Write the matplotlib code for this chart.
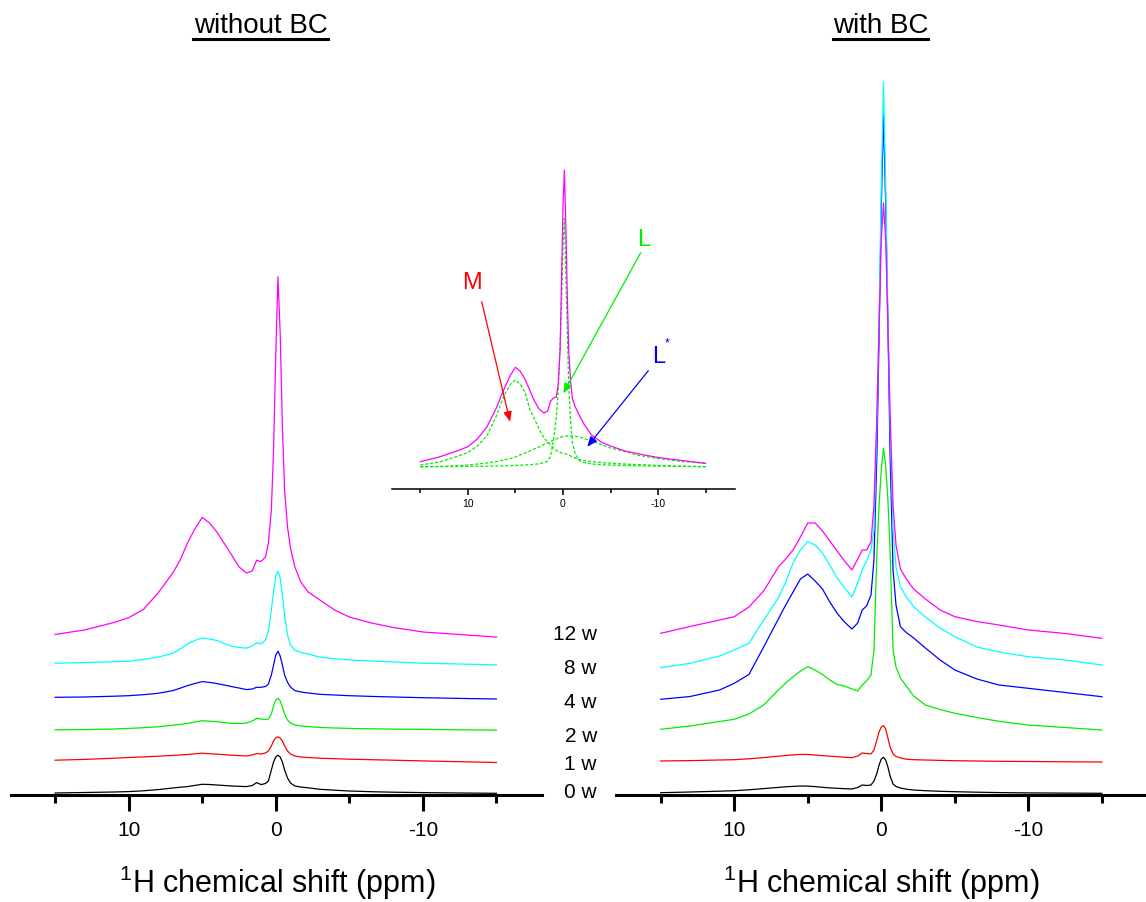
import matplotlib
matplotlib.use('Agg')
import matplotlib.pyplot as plt
from matplotlib.lines import Line2D

plt.rcParams['font.family'] = ['Liberation Sans', 'DejaVu Sans']
plt.rcParams['mathtext.fontset'] = 'custom'
plt.rcParams['mathtext.rm'] = 'Liberation Sans'
plt.rcParams['axes.unicode_minus'] = False

# --- data: 1H spectra (ppm grid, intensity in arbitrary units) ---
ppm = [15, 13, 11, 10, 9, 8, 7, 6.5, 6, 5.5, 5, 4.5, 4, 3.5, 3, 2.5, 2, 1.6, 1.3, 1.0,
       0.7, 0.5, 0.3, 0.15, 0.0, -0.15, -0.3, -0.45, -0.6, -0.8, -1.0, -1.3, -1.7, -2.2,
       -3, -4, -5, -6.5, -8, -10, -12.5, -15]

weeks = ['0 w', '1 w', '2 w', '4 w', '8 w', '12 w']
colors = ['#000000', '#ff0000', '#00ee00', '#0000ff', '#00ffff', '#ff00ff']

# without BC
noBC_0w = [2, 2.5, 3, 3.4, 4.2, 5.4, 7, 7.8, 8.4, 9.6, 10.7, 10.5, 10, 9.5, 9, 8.7, 8.4, 9.5, 12.4, 10.4,
           11.5, 14, 25, 33, 38, 39.8, 38, 33, 25, 17, 12, 9, 8, 7.2, 5.7, 4.8, 4, 3.3, 2.8, 2.4, 2, 1.7]
noBC_1w = [34.8, 35.6, 36.8, 37.5, 38.1, 38.8, 39.6, 40, 40.5, 41.2, 41.8, 41.3, 40.8, 40.3, 39.8, 39.4, 39, 40, 41.5, 41,
           42, 44, 49, 54, 57, 58.2, 57, 54, 49, 44, 41, 39, 38, 37.5, 36.8, 36.3, 35.8, 35.3, 34.8, 34.1, 33.3, 32.5]
noBC_2w = [65.2, 65.4, 66, 66.6, 67.3, 68.2, 69.8, 70.6, 71.6, 73, 74.3, 73.8, 73.3, 72.4, 71.6, 71.5, 71.9, 74, 76.6, 76,
           75.5, 76, 81, 89, 95, 96.7, 94, 88, 81, 75, 72, 70, 69, 68.4, 67.6, 67, 66.6, 66.2, 65.9, 65.6, 65.2, 64.9]
noBC_4w = [97.7, 98, 98.8, 99.3, 100.3, 101.7, 104.4, 106.8, 109.4, 111.5, 113.4, 112.6, 111.4, 110, 108.4, 107, 105.4, 106, 107.7, 107.7,
           108.5, 111, 120, 130, 140, 143.8, 139, 130, 120, 112.7, 108, 104.4, 103, 102, 100.7, 100, 99.3, 98.6, 98, 97.3, 96.6, 96]
noBC_8w = [131.8, 132.4, 133.3, 133.8, 135.5, 137.8, 141.8, 146, 151.2, 154.5, 157.2, 156, 154.5, 151.5, 148.8, 147.5, 146.8, 149, 152.2, 151.2,
           155, 164, 185, 203, 219, 224, 217, 200, 180, 160, 150, 145, 142.5, 141, 137.8, 136.3, 135.1, 134, 133, 131.8, 131, 130.1]
noBC_12w = [160.6, 165, 172.5, 177.3, 185.5, 202, 222, 235, 252, 266, 277.6, 272, 263, 251.5, 240, 228.1, 222, 224, 234.8, 233.5,
            238, 252, 285, 345, 440, 518.3, 462, 368, 305, 268, 247, 228, 213, 203, 195, 185, 178, 172, 167.5, 163, 160.5, 157.9]

# with BC
BC_0w = [2.3, 3, 3.8, 4.3, 5.2, 6.4, 7.6, 8.2, 8.6, 9, 8.9, 8.4, 7.7, 7.1, 6.7, 6.3, 6, 7.5, 10, 9.5,
         10, 14, 21.7, 30, 36, 37.7, 35, 28, 19, 11, 8.5, 7, 5.8, 5, 4.3, 3.7, 3.3, 2.8, 2.4, 2.1, 1.9, 1.7]
BC_1w = [34, 34.4, 35, 35.3, 36.2, 37.4, 38.8, 39.5, 40.1, 40.6, 40.5, 40, 39.4, 38.8, 38.3, 37.8, 37.4, 39, 42, 41.5,
         41, 45, 55, 63, 68, 69.3, 66, 57, 48, 41, 38.5, 37, 35.8, 35.3, 35, 34.6, 34.3, 34, 33.7, 33.5, 33.2, 33]
BC_2w = [65.7, 69, 73.5, 75.7, 81, 90, 105, 112, 118, 124, 128.3, 125, 120.5, 115, 110.5, 109, 106, 104, 110, 114,
         120, 145, 241.7, 290, 325, 347, 330, 295, 243, 145, 128, 117, 109, 99, 90, 85.5, 81.7, 77.5, 73.7, 70, 67.5, 65]
BC_4w = [95.7, 98.5, 105, 111.7, 120.5, 148, 176, 190, 203, 216, 221, 214, 206, 193, 181.7, 173, 166, 172, 185, 189,
         200, 235, 340, 460, 590, 681.7, 590, 470, 340, 225, 190, 168.3, 162.5, 157, 147, 135, 125, 116, 110, 106.7, 102.5, 98.3]
BC_8w = [127.3, 131.7, 139, 145, 151.7, 175, 197, 213, 232, 245, 253.3, 250, 242, 230, 217, 207, 198, 212, 225, 234,
         245, 265, 370, 480, 610, 713, 610, 480, 370, 265, 228, 208.3, 198, 188.3, 178, 167, 158.3, 148, 143, 138.3, 135, 130]
BC_12w = [161.7, 168.5, 175, 178.3, 188, 204, 228, 236, 245, 258, 272, 272, 264, 254, 244, 234, 225, 236, 245, 245,
          253, 290, 380, 470, 555, 592, 555, 470, 380, 290, 250, 226, 216, 206, 196, 185, 178.3, 173.5, 170, 165, 161.5, 156.7]

# inset: 12 w spectrum and its deconvolution (M, L, L*)
inset_12w = [27.3, 32, 38.5, 42.3, 50, 62, 81, 93, 104, 114, 121.7, 118, 110, 99, 88, 80, 76, 78, 88, 91,
             92, 105, 139, 210, 280, 319, 265, 195, 139, 108, 90, 82, 74, 65, 54, 47, 43, 38, 35, 31.5, 28.5, 25.7]
fit_M = [24, 27, 33, 36.5, 43, 53, 73, 86, 97, 105, 109, 105, 97, 80, 70, 60, 51, 47, 44, 41,
         38.5, 37.5, 36.5, 36, 35.7, 35.3, 35, 34.5, 34, 33, 32, 31, 29.5, 28.5, 27.5, 26.5, 25.8, 25, 24.3, 23.5, 22.8, 22.3]
fit_L = [22.3, 22.4, 22.5, 22.6, 22.7, 22.8, 23, 23.1, 23.2, 23.4, 23.6, 23.8, 24, 24.3, 24.7, 25.3, 26.3, 28, 33, 48,
         72, 98, 145, 185, 240, 270.7, 215, 160, 105, 68, 46, 35, 28.5, 26.5, 25, 24.3, 23.9, 23.5, 23.2, 22.9, 22.6, 22.3]
fit_Lstar = [22.3, 22.5, 23.3, 24, 25, 26, 27.5, 28.5, 29.5, 30.5, 32, 34, 36, 38, 40, 42, 44.5, 46, 47.5, 49,
             50, 51, 51.8, 52.2, 52.5, 52.7, 52.9, 53, 53, 53, 53, 52.7, 52, 50.5, 48, 44.5, 41, 37.5, 33.5, 30.5, 27.5, 25.7]

W, H = 1146, 902
fig = plt.figure(figsize=(W / 100, H / 100), dpi=100)


def px_axes(x0, y_top, x1, y_bot):
    ax = fig.add_axes([x0 / W, 1 - y_bot / H, (x1 - x0) / W, (y_bot - y_top) / H])
    ax.patch.set_visible(False)
    for s in ['top', 'left', 'right']:
        ax.spines[s].set_visible(False)
    ax.set_yticks([])
    return ax


def fx(x):
    return x / W


def fy(y):
    return 1 - y / H


def style_axis(ax, lw, major, minor, size, pad):
    ax.spines['bottom'].set_linewidth(lw)
    ax.set_xticks([10, 0, -10])
    ax.set_xticklabels(['10', '0', '-10'])
    ax.set_xticks([15, 5, -5, -15], minor=True)
    ax.tick_params(axis='x', which='major', direction='out', length=major, width=lw,
                   labelsize=size, pad=pad, colors='black')
    ax.tick_params(axis='x', which='minor', direction='out', length=minor, width=lw)


# --- main panels ---
ax_l = px_axes(11, 60, 542, 795)
ax_l.set_xlim(18.0, -18.1)
ax_l.set_ylim(0, 735)
ax_r = px_axes(616, 60, 1146, 795)
ax_r.set_xlim(18.04, -18.0)
ax_r.set_ylim(0, 735)

for ax, series in [(ax_l, [noBC_0w, noBC_1w, noBC_2w, noBC_4w, noBC_8w, noBC_12w]),
                   (ax_r, [BC_0w, BC_1w, BC_2w, BC_4w, BC_8w, BC_12w])]:
    for vals, c in zip(series, colors):
        ax.plot(ppm, vals, color=c, lw=0.9)
    style_axis(ax, 2.2, 11.5, 5.8, 15, 7)

# --- inset with deconvolution ---
ax_in = px_axes(391.7, 150, 735, 489)
ax_in.set_xlim(18.0, -18.08)
ax_in.set_ylim(0, 339)
for comp in [fit_Lstar, fit_M, fit_L]:
    ax_in.plot(ppm, comp, color='#00ee00', lw=0.9, ls=(0, (2.5, 1.5)))
ax_in.plot(ppm, inset_12w, color='#ff00ff', lw=0.9)
style_axis(ax_in, 1.1, 4.3, 2.9, 7.5, 3)

# labels and arrows in the inset
fig.text(fx(471.7), fy(283), 'M', color='#ff0000', fontsize=17, ha='center', va='center')
fig.text(fx(643.3), fy(240), 'L', color='#00ee00', fontsize=17, ha='center', va='center')
fig.text(fx(658.3), fy(356.7), 'L', color='#0000ff', fontsize=17, ha='center', va='center')
fig.text(fx(667.5), fy(343), '*', color='#0000ff', fontsize=9, ha='center', va='center')
for (x0, y0, x1, y1), c in [((481.7, 301.7, 510, 421.7), '#ff0000'),
                             ((640.7, 252.7, 563.3, 393.3), '#00ee00'),
                             ((648.3, 370.7, 587.3, 446.7), '#0000ff')]:
    fig.add_artist(matplotlib.patches.FancyArrowPatch(
        (fx(x0), fy(y0)), (fx(x1), fy(y1)), transform=fig.transFigure,
        arrowstyle='-|>,head_length=6,head_width=2.5', color=c, lw=0.9,
        shrinkA=0, shrinkB=0))

# --- week labels between the panels ---
for label, y in zip(weeks, [792, 765, 737, 702, 669, 635]):
    fig.text(fx(597), fy(y), label, fontsize=15, ha='right', va='center')

# --- titles (underlined) and axis labels ---
for txt, xc, (u0, u1) in [('without BC', 260.5, (193, 328)), ('with BC', 880.5, (833, 928))]:
    fig.text(fx(xc), fy(33), txt, fontsize=20, ha='center', va='baseline')
    fig.add_artist(Line2D([fx(u0), fx(u1)], [fy(38.5), fy(38.5)], color='black', lw=2.2,
                          transform=fig.transFigure))

for xc in [277, 881]:
    fig.text(fx(xc), fy(893), r'$^{\mathregular{1}}$H chemical shift (ppm)', fontsize=22,
             ha='center', va='baseline')

fig.savefig('out.png', dpi=100)
